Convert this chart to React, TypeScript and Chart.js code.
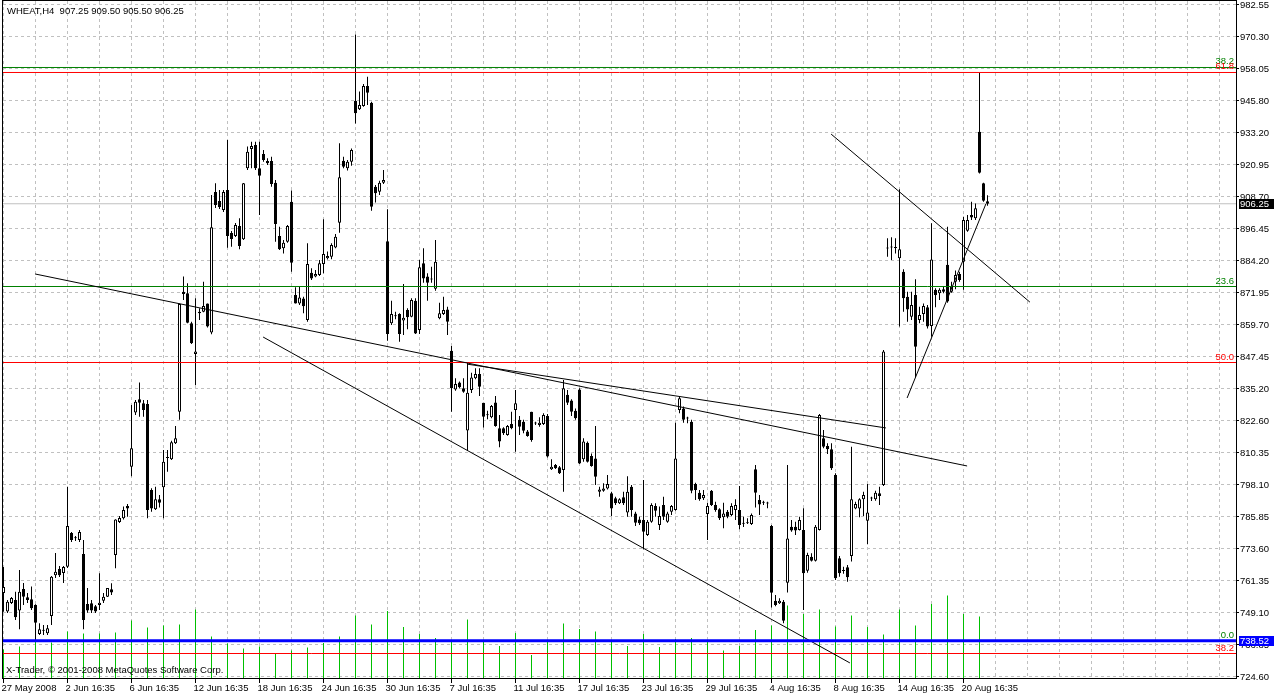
import React, { useEffect, useRef } from "react";
import { Chart, registerables } from "chart.js";

Chart.register(...registerables);

// ---- H4 bars (index 0 = 27 May 2008) ----
const opens = [
  756.8, 749.7, 753.0, 754.2, 750.1, 758.4, 755.2, 754.4, 752.2, 741.1, 742.4, 741.4, 748.0, 763.7, 766.1, 764.5,
  766.9, 779.9, 778.0, 777.2, 771.8, 752.6, 752.9, 751.8, 752.2, 753.9, 755.4, 758.3, 771.4, 784.1, 785.5, 790.2,
  805.3, 826.1, 831.2, 829.7, 829.4, 796.4, 789.0, 792.8, 797.4, 808.9, 808.2, 814.3, 826.4, 872.5, 871.9, 860.4,
  848.6, 864.8, 864.8, 868.0, 856.8, 910.8, 907.3, 903.9, 911.5, 895.0, 893.9, 897.7, 892.6, 919.9, 927.3, 928.8,
  919.9, 925.4, 922.7, 922.7, 914.3, 893.9, 889.2, 891.7, 907.0, 871.2, 868.0, 869.9, 861.6, 879.8, 878.3, 878.9,
  883.1, 885.3, 885.9, 889.5, 899.0, 922.8, 919.9, 922.4, 945.8, 942.5, 943.8, 951.5, 945.0, 912.8, 910.9, 914.3,
  891.9, 860.4, 863.3, 863.9, 861.4, 865.5, 862.9, 869.0, 857.8, 883.4, 878.3, 877.3, 873.6, 862.3, 863.9, 865.7,
  849.8, 835.0, 837.6, 835.4, 819.2, 834.8, 839.3, 840.9, 829.9, 825.3, 824.3, 830.0, 820.1, 820.1, 817.5, 821.7,
  827.1, 823.3, 822.6, 818.8, 826.4, 822.1, 821.3, 821.7, 824.8, 804.3, 806.0, 805.1, 804.1, 832.9, 830.7, 826.8,
  835.0, 808.2, 814.5, 809.4, 808.5, 795.7, 796.1, 797.0, 795.1, 793.2, 791.3, 793.6, 787.7, 797.6, 787.4, 785.1,
  784.9, 779.1, 784.2, 790.2, 782.9, 790.6, 784.2, 788.0, 788.7, 827.1, 827.7, 823.9, 822.6, 798.7, 795.3, 793.2,
  787.2, 796.1, 790.6, 789.0, 785.9, 788.0, 786.8, 788.7, 788.7, 783.5, 783.8, 783.3, 804.3, 792.5, 791.6, 791.4,
  782.6, 753.9, 752.9, 753.5, 760.8, 782.3, 782.3, 781.0, 781.0, 765.4, 770.8, 769.2, 781.0, 816.2, 813.3, 812.0,
  802.1, 770.2, 765.5, 766.7, 771.0, 789.3, 789.3, 792.8, 784.6, 793.3, 792.8, 795.1, 798.3, 889.2, 889.6, 889.5,
  885.3, 880.2, 870.6, 862.9, 871.2, 861.6, 863.9, 866.5, 859.3, 873.2, 871.9, 873.4, 882.8, 872.5, 876.3, 879.3,
  884.0, 895.9, 901.9, 900.7, 933.9, 914.1, 907.25,
];
const highs = [
  766.8, 754.2, 755.3, 757.3, 765.7, 760.7, 756.8, 759.3, 752.5, 745.2, 744.6, 744.6, 763.4, 772.2, 767.2, 767.2,
  797.6, 780.3, 778.7, 781.0, 777.2, 758.8, 754.2, 752.2, 764.4, 756.8, 758.8, 760.6, 785.2, 786.4, 790.0, 791.0,
  829.0, 830.9, 837.6, 830.9, 830.9, 797.1, 797.6, 794.5, 811.7, 811.7, 815.3, 820.9, 868.0, 878.3, 875.7, 861.0,
  870.0, 866.1, 876.3, 868.0, 909.6, 914.1, 911.5, 911.5, 930.7, 895.8, 898.9, 900.7, 914.2, 928.2, 930.1, 930.1,
  930.1, 926.9, 923.7, 924.3, 915.4, 897.4, 892.3, 898.1, 911.3, 874.2, 874.4, 870.6, 891.1, 881.5, 880.8, 884.7,
  900.3, 887.9, 891.1, 894.6, 929.5, 924.3, 923.1, 927.5, 971.2, 949.3, 952.2, 955.0, 945.4, 913.5, 915.1, 919.2,
  904.1, 869.0, 864.8, 864.2, 875.5, 866.1, 870.0, 870.0, 884.7, 889.2, 879.6, 882.1, 892.3, 868.3, 870.6, 866.7,
  851.7, 839.3, 838.0, 839.3, 845.1, 841.4, 843.1, 843.1, 829.9, 826.8, 829.0, 832.5, 825.2, 820.5, 821.3, 826.4,
  834.8, 824.8, 823.3, 819.4, 826.4, 822.6, 824.3, 825.8, 825.6, 808.2, 806.4, 805.6, 838.6, 834.8, 831.2, 827.7,
  835.4, 816.2, 815.0, 810.4, 820.9, 797.6, 799.0, 802.1, 795.7, 793.8, 793.2, 795.7, 801.7, 798.3, 788.0, 786.1,
  800.2, 784.9, 791.3, 791.3, 790.0, 793.8, 788.0, 790.6, 822.2, 832.2, 828.4, 824.5, 823.3, 799.2, 796.4, 796.4,
  791.5, 796.4, 791.9, 789.4, 791.5, 788.7, 791.3, 792.8, 797.9, 786.1, 785.5, 787.4, 806.0, 794.5, 792.3, 791.9,
  782.9, 756.1, 754.8, 754.2, 806.0, 784.9, 784.2, 786.1, 789.4, 772.3, 772.1, 782.9, 825.6, 819.4, 814.3, 814.3,
  802.8, 771.0, 766.9, 767.6, 813.0, 791.9, 793.2, 795.7, 798.7, 793.8, 796.1, 797.6, 850.1, 893.0, 893.4, 893.0,
  911.8, 881.1, 872.5, 872.5, 877.3, 866.7, 868.0, 867.4, 898.8, 873.8, 873.8, 874.7, 897.4, 876.3, 880.6, 880.2,
  901.3, 901.9, 907.0, 906.4, 956.6, 914.3, 909.5,
];
const lows = [
  749.6, 749.2, 752.6, 746.5, 742.9, 752.2, 753.0, 750.3, 738.8, 740.7, 740.7, 740.7, 744.6, 762.6, 763.0, 760.7,
  766.4, 776.4, 776.8, 776.4, 742.9, 749.3, 749.2, 749.2, 750.3, 753.0, 755.3, 756.1, 766.3, 783.7, 785.1, 786.1,
  801.7, 825.2, 824.5, 824.5, 785.5, 788.0, 788.7, 789.7, 785.5, 803.4, 807.9, 814.0, 823.3, 869.3, 860.4, 852.4,
  836.7, 861.6, 864.6, 858.8, 856.2, 904.6, 904.2, 903.1, 889.4, 889.8, 893.5, 888.8, 892.3, 919.2, 919.9, 919.2,
  901.9, 922.4, 921.1, 912.8, 891.7, 888.5, 887.2, 891.3, 880.2, 868.0, 867.4, 864.2, 861.0, 877.0, 878.0, 878.5,
  879.6, 884.9, 885.0, 889.2, 895.1, 919.9, 919.0, 920.8, 937.1, 942.2, 943.5, 944.2, 903.6, 906.7, 909.6, 913.8,
  853.7, 859.7, 861.9, 853.3, 855.9, 858.1, 862.7, 856.3, 856.3, 875.9, 869.0, 875.9, 872.9, 861.9, 863.6, 855.9,
  826.4, 834.5, 835.4, 833.7, 811.5, 833.6, 838.9, 832.5, 820.4, 823.5, 823.9, 820.7, 812.8, 817.5, 817.2, 819.7,
  811.1, 817.5, 818.2, 816.8, 814.9, 821.3, 820.7, 821.3, 808.9, 804.1, 804.4, 802.5, 795.7, 829.0, 824.8, 823.3,
  806.4, 807.2, 806.9, 805.3, 798.3, 793.8, 795.7, 796.6, 786.4, 790.6, 791.0, 790.6, 786.1, 786.1, 782.6, 782.9,
  773.6, 778.7, 783.8, 786.1, 781.0, 784.9, 783.8, 786.8, 788.4, 825.8, 822.2, 822.0, 795.1, 792.5, 792.3, 792.5,
  777.2, 790.2, 788.0, 784.9, 781.7, 785.5, 786.4, 784.9, 781.3, 782.2, 783.3, 782.9, 789.7, 786.8, 790.6, 789.4,
  751.3, 751.8, 752.6, 745.2, 757.0, 780.4, 779.1, 780.8, 750.3, 764.6, 768.9, 768.9, 780.8, 812.4, 810.2, 804.1,
  761.8, 763.1, 764.2, 761.2, 768.9, 789.0, 785.9, 786.4, 775.6, 792.2, 792.3, 790.6, 797.9, 885.9, 884.7, 887.2,
  859.1, 864.8, 861.0, 861.6, 839.7, 860.4, 861.0, 858.4, 855.2, 866.5, 869.3, 871.9, 868.3, 872.1, 873.4, 876.3,
  873.2, 895.5, 900.0, 900.0, 917.9, 907.0, 905.5,
];
const closes = [
  759.1, 753.5, 754.9, 747.5, 757.3, 755.4, 754.2, 751.0, 745.4, 742.9, 742.7, 743.3, 763.1, 765.0, 763.7, 766.8,
  782.6, 777.2, 777.9, 780.3, 746.5, 750.1, 750.1, 749.7, 753.1, 755.4, 758.8, 757.0, 785.1, 785.6, 788.7, 789.3,
  812.4, 830.3, 829.9, 827.1, 788.7, 789.3, 792.8, 791.5, 807.2, 808.7, 814.7, 816.2, 867.8, 871.6, 860.6, 852.7,
  849.5, 864.2, 867.0, 859.1, 897.2, 905.8, 905.0, 910.8, 893.9, 892.7, 898.1, 890.0, 914.1, 926.2, 928.4, 919.9,
  917.0, 923.1, 921.8, 913.8, 898.5, 888.8, 891.3, 897.7, 883.6, 868.0, 870.3, 866.9, 883.1, 877.6, 879.3, 883.4,
  887.0, 886.2, 890.4, 893.6, 916.4, 920.5, 922.4, 926.9, 941.0, 944.2, 951.5, 948.9, 905.1, 910.3, 914.3, 915.4,
  856.3, 863.9, 863.1, 856.3, 862.5, 862.7, 869.3, 856.5, 881.9, 877.6, 875.9, 877.2, 884.0, 864.2, 865.5, 861.0,
  835.4, 837.1, 835.8, 834.1, 833.7, 839.6, 840.9, 836.0, 824.5, 825.1, 828.6, 820.9, 815.0, 818.2, 820.9, 820.1,
  829.7, 820.7, 819.1, 817.1, 815.6, 821.9, 822.2, 825.2, 809.2, 805.3, 804.7, 802.8, 835.4, 829.9, 826.4, 823.9,
  806.6, 815.0, 807.2, 805.6, 801.5, 796.6, 797.0, 798.7, 789.3, 791.3, 792.8, 791.3, 795.7, 788.7, 783.8, 783.6,
  780.4, 784.2, 790.6, 788.4, 786.4, 786.1, 787.4, 790.2, 808.5, 831.6, 823.3, 823.8, 796.1, 796.4, 792.8, 794.5,
  790.2, 790.6, 788.7, 785.5, 787.4, 786.1, 790.2, 790.6, 782.9, 783.4, 783.6, 786.8, 795.3, 790.8, 791.5, 791.2,
  756.9, 752.2, 753.9, 746.2, 777.8, 780.8, 780.8, 784.9, 764.4, 771.4, 769.2, 782.3, 825.2, 813.0, 812.0, 804.7,
  762.5, 764.4, 765.3, 762.9, 792.8, 791.0, 792.8, 794.5, 787.7, 793.1, 795.3, 794.1, 849.5, 889.1, 889.5, 889.3,
  888.8, 870.0, 865.7, 867.4, 851.4, 863.6, 867.0, 859.1, 884.9, 871.2, 873.2, 872.5, 868.7, 874.4, 878.9, 877.0,
  900.0, 900.0, 901.0, 904.5, 918.2, 907.4, 906.25,
];

// Volume, reported on the first H4 bar of every session (every 4th bar)
const volumes = [
  2950, 3250, 3950, 3650, 4750, 4550, 4550, 4650, 5850, 5150, 5350, 5450, 6950, 4250, 3550, 3050,
  3250, 2550, 2850, 3150, 3600, 4250, 6350, 5450, 6800, 5200, 4500, 4100, 3700, 5950, 3700, 3300,
  4600, 2400, 3700, 5550, 5000, 4750, 3700, 3300, 4500, 3200, 4000, 4100, 3700, 2850, 3300, 4900,
  5350, 7350, 6500, 6950, 5250, 6350, 5200, 4450, 6950, 5350, 7500, 8350, 6500, 6250,
];
const BARS_PER_SESSION = 4;

// Time axis labels: one every 16 bars
const dateLabels = [
  "27 May 2008", "2 Jun 16:35", "6 Jun 16:35", "12 Jun 16:35", "18 Jun 16:35", "24 Jun 16:35",
  "30 Jun 16:35", "7 Jul 16:35", "11 Jul 16:35", "17 Jul 16:35", "23 Jul 16:35", "29 Jul 16:35",
  "4 Aug 16:35", "8 Aug 16:35", "14 Aug 16:35", "20 Aug 16:35",
];
const BARS_PER_LABEL = 16;
const BARS_PER_GRID = 8;

// Price axis labels, top to bottom
const yTickLabels = [
  "982.55", "970.30", "958.05", "945.80", "933.20", "920.95", "908.70", "896.45", "884.20", "871.95", "859.70",
  "847.45", "835.20", "822.60", "810.35", "798.10", "785.85", "773.60", "761.35", "749.10", "736.85", "724.60",
];

// Fibonacci levels
const fibPrices = [958.56, 956.64, 874.49, 845.32, 738.52, 733.62];
const fibLabels = ["38.2", "61.8", "23.6", "50.0", "0.0", "38.2"];
const fibColors = ["#008000", "#ff0000", "#008000", "#ff0000", "#008000", "#ff0000"];

// Horizontal line (blue) and trend lines: [barIndex1, price1, barIndex2, price2]
const bluePrice = 738.52;
const trendLines = [
  [7.9, 879.3, 240.9, 805.6],
  [115.9, 844.7, 220.6, 820.2],
  [64.9, 855.1, 211.6, 730.0],
  [206.9, 933.0, 256.6, 868.5],
  [225.9, 831.7, 245.6, 906.2],
];

const title = "WHEAT,H4  907.25 909.50 905.50 906.25";
const copyright = "X-Trader, \u00a9 2001-2008 MetaQuotes Software Corp.";

// ---- layout constants ----
const W = 1274;
const H = 696;
const X_MIN = -0.125;
const X_MAX = 308.125;
const Y_MIN = 723.832;
const Y_MAX = 984.085;
const FONT_FAMILY = "'Liberation Sans', Arial, sans-serif";
const FONT_SIZE = 9.5;
const FONT = `${FONT_SIZE}px ${FONT_FAMILY}`;
const VOLUME_COLOR = "#00c000";

const n = opens.length;
const idx = opens.map((_, i) => i);
const wickData = idx.map((i) => ({ x: i, y: [lows[i], highs[i]] }));
const bodyData = idx.map((i) => ({
  x: i,
  y: [Math.min(opens[i], closes[i]), Math.max(opens[i], closes[i])],
}));
const bodyColors = idx.map((i) => (closes[i] >= opens[i] ? "#ffffff" : "#000000"));
const volData = volumes.map((v, k) => ({ x: k * BARS_PER_SESSION, y: v }));

const yTop = parseFloat(yTickLabels[0]);
const yBottom = parseFloat(yTickLabels[yTickLabels.length - 1]);
const yTickValues = yTickLabels.map(
  (_, k) => yBottom + ((yTop - yBottom) * k) / (yTickLabels.length - 1)
);
const xTickValues: number[] = [];
for (let v = 0; v <= X_MAX; v += BARS_PER_GRID) xTickValues.push(v);

const xLabelFor = (v: number) => {
  if (v % BARS_PER_LABEL !== 0) return "";
  const k = v / BARS_PER_LABEL;
  return k < dateLabels.length ? dateLabels[k] : "";
};

const hLine = (price: number, color: string, width: number, order: number) => ({
  type: "line" as const,
  data: [
    { x: X_MIN, y: price },
    { x: X_MAX, y: price },
  ],
  borderColor: color,
  borderWidth: width,
  pointRadius: 0,
  pointHoverRadius: 0,
  fill: false,
  tension: 0,
  order,
  xAxisID: "x",
  yAxisID: "y",
});

const mtPlugin = {
  id: "mtDecor",
  afterDraw(chart: any) {
    const { ctx, chartArea: a, scales } = chart;
    const y = scales.y;
    ctx.save();
    // frame
    ctx.strokeStyle = "#000";
    ctx.lineWidth = 1;
    ctx.setLineDash([]);
    ctx.strokeRect(a.left - 0.5, a.top - 0.5, a.right - a.left + 1, a.bottom - a.top);

    ctx.font = FONT;
    ctx.textBaseline = "alphabetic";
    ctx.textAlign = "left";
    ctx.fillStyle = "#000";
    ctx.fillText(title, a.left + 4, a.top + 13);
    ctx.fillText(copyright, a.left + 3, a.bottom - 6);

    // fib labels
    ctx.textAlign = "right";
    fibPrices.forEach((p, k) => {
      const py = y.getPixelForValue(p);
      ctx.fillStyle = fibColors[k];
      ctx.fillText(fibLabels[k], a.right - 2, py - 3);
    });

    // price boxes on the axis
    const boxes = [
      { price: closes[n - 1], bg: "#000000" },
      { price: bluePrice, bg: "#0000ff" },
    ];
    ctx.textAlign = "left";
    ctx.textBaseline = "middle";
    boxes.forEach((b) => {
      const py = y.getPixelForValue(b.price);
      ctx.fillStyle = b.bg;
      ctx.fillRect(a.right + 3, Math.round(py) - 5, W - (a.right + 3), 10);
      ctx.fillStyle = "#ffffff";
      ctx.fillText(b.price.toFixed(2), a.right + 4, Math.round(py));
    });
    ctx.restore();
  },
};

export default function App() {
  const ref = useRef<HTMLCanvasElement>(null);
  useEffect(() => {
    if (!ref.current) return;
    const datasets: any[] = [
      hLine(closes[n - 1], "#c0c0c0", 1, 20),
      {
        type: "bar",
        data: volData,
        yAxisID: "yv",
        xAxisID: "x",
        backgroundColor: VOLUME_COLOR,
        borderWidth: 0,
        barThickness: 1,
        grouped: false,
        inflateAmount: 0,
        order: 15,
      },
      {
        type: "bar",
        data: wickData,
        yAxisID: "y",
        xAxisID: "x",
        backgroundColor: "#000000",
        borderWidth: 0,
        barThickness: 1,
        grouped: false,
        inflateAmount: 0,
        order: 12,
      },
      {
        type: "bar",
        data: bodyData,
        yAxisID: "y",
        xAxisID: "x",
        backgroundColor: bodyColors,
        borderColor: "#000000",
        borderWidth: 1,
        borderSkipped: false,
        barThickness: 3,
        minBarLength: 1,
        grouped: false,
        inflateAmount: 0,
        order: 11,
      },
      ...fibPrices.map((p, k) => hLine(p, fibColors[k], 1, 8 - k * 0.1)),
      ...trendLines.map((t) => ({
        type: "line",
        data: [
          { x: t[0], y: t[1] },
          { x: t[2], y: t[3] },
        ],
        borderColor: "#000000",
        borderWidth: 1,
        pointRadius: 0,
        pointHoverRadius: 0,
        fill: false,
        tension: 0,
        order: 5,
        xAxisID: "x",
        yAxisID: "y",
      })),
      hLine(bluePrice, "#0000ff", 3, 2),
    ];

    const chart = new Chart(ref.current, {
      type: "bar",
      data: { datasets },
      options: {
        responsive: false,
        maintainAspectRatio: false,
        animation: false,
        devicePixelRatio: 1,
        events: [],
        layout: { padding: { left: 3, top: 1, right: 0, bottom: 0 }, autoPadding: false },
        plugins: {
          legend: { display: false },
          tooltip: { enabled: false },
          title: { display: false },
        },
        scales: {
          x: {
            type: "linear",
            min: X_MIN,
            max: X_MAX,
            offset: false,
            bounds: "data",
            afterBuildTicks: (s: any) => {
              s.ticks = xTickValues.map((v) => ({ value: v }));
            },
            afterFit: (s: any) => {
              s.height = H - 679;
              s.paddingLeft = 0;
              s.paddingRight = 0;
              s.paddingTop = 0;
              s.paddingBottom = 0;
            },
            ticks: {
              autoSkip: false,
              maxRotation: 0,
              minRotation: 0,
              align: "start",
              labelOffset: -2,
              padding: 0,
              color: "#000000",
              font: { family: FONT_FAMILY, size: FONT_SIZE },
              callback: (v: any) => xLabelFor(Number(v)),
            },
            grid: {
              color: "#c0c0c0",
              lineWidth: 1,
              offset: false,
              drawTicks: true,
              tickLength: 4,
              tickWidth: 1,
              tickColor: (c: any) =>
                c.tick && xLabelFor(c.tick.value) !== "" ? "#000000" : "rgba(0,0,0,0)",
            },
            border: { display: false, dash: [3, 3] },
          },
          y: {
            type: "linear",
            position: "right",
            min: Y_MIN,
            max: Y_MAX,
            bounds: "data",
            afterBuildTicks: (s: any) => {
              s.ticks = yTickValues.map((v) => ({ value: v }));
            },
            afterFit: (s: any) => {
              s.width = 38;
              s.paddingLeft = 0;
              s.paddingRight = 0;
              s.paddingTop = 0;
              s.paddingBottom = 0;
            },
            ticks: {
              autoSkip: false,
              padding: 1,
              color: "#000000",
              font: { family: FONT_FAMILY, size: FONT_SIZE },
              callback: (_v: any, i: number) => yTickLabels[yTickLabels.length - 1 - i],
            },
            grid: {
              color: "#c0c0c0",
              lineWidth: 1,
              drawTicks: true,
              tickLength: 3,
              tickWidth: 1,
              tickColor: "#000000",
            },
            border: { display: false, dash: [3, 3] },
          },
          yv: {
            type: "linear",
            display: false,
            min: 0,
            max: 67800,
          },
        },
      } as any,
      plugins: [mtPlugin],
    } as any);
    return () => chart.destroy();
  }, []);

  return (
    <div style={{ position: "fixed", left: 0, top: 0, width: W, height: H, background: "#ffffff" }}>
      <canvas ref={ref} width={W} height={H} style={{ display: "block", width: W, height: H }} />
    </div>
  );
}
